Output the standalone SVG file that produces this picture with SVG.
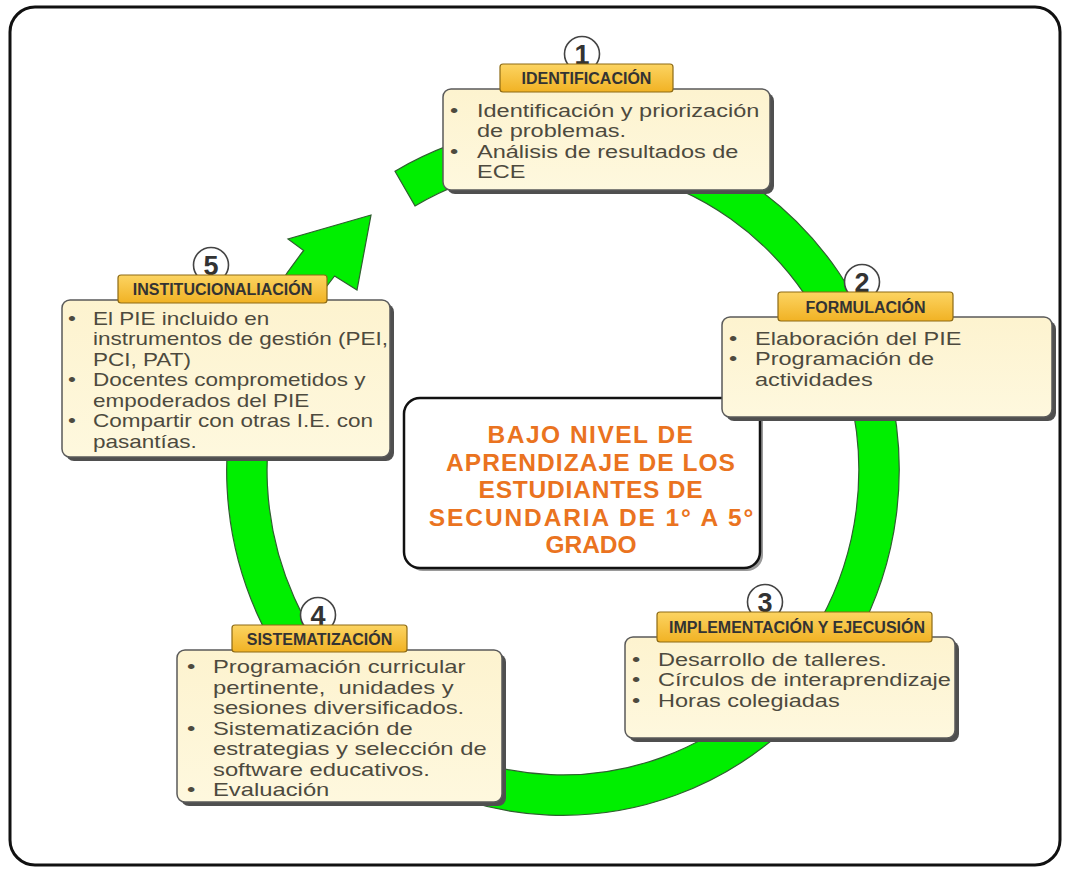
<svg xmlns="http://www.w3.org/2000/svg" width="1065" height="870" viewBox="0 0 1065 870">
<defs>
<linearGradient id="gold" x1="0" y1="0" x2="0" y2="1">
<stop offset="0" stop-color="#fcd462"/>
<stop offset="1" stop-color="#f1b224"/>
</linearGradient>
<linearGradient id="cream" x1="0" y1="0" x2="0" y2="1">
<stop offset="0" stop-color="#fdf3cf"/>
<stop offset="1" stop-color="#fef8de"/>
</linearGradient>
</defs>
<style>
.frame{fill:#fff;stroke:#111;stroke-width:3}
.shadow{fill:#4f4f4f}
.box{fill:url(#cream);stroke:#5a5a5a;stroke-width:1.5}
.label{fill:url(#gold);stroke:#8d6a14;stroke-width:1.2}
.ltxt{font-family:"Liberation Sans",Arial,sans-serif;font-weight:bold;font-size:16px;fill:#333;text-anchor:middle}
.circ{fill:#fff;stroke:#444;stroke-width:1.6}
.num{font-family:"Liberation Sans",Arial,sans-serif;font-weight:bold;font-size:27px;fill:#333;text-anchor:middle}
.body{font-family:"Liberation Sans",Arial,sans-serif;font-size:18.3px;fill:#4d4a3e}
.ring{fill:#00ef00;stroke:#2f5f2f;stroke-width:1.2;stroke-linejoin:miter}
.center{fill:#fff;stroke:#111;stroke-width:2.5}
.ctxt{font-family:"Liberation Sans",Arial,sans-serif;font-weight:bold;font-size:24.5px;fill:#ea7320;text-anchor:middle}
</style>
<rect class="frame" x="10" y="7" width="1050" height="858" rx="25"/>

<g id="connectors">
<path class="ring" d="M395,171.2 A336,345 0 0 1 779,734.3 A336,345 0 0 1 303.7,250.5 L288,239 L371,215 L357,290 L334.6,276 A296,305 0 0 0 753.3,703.6 A296,305 0 0 0 415,205.9 Z"/>
</g>

<g id="center">
<rect x="407" y="401" width="356" height="170" rx="16" fill="#9a9a9a"/>
<rect class="center" x="404" y="398" width="356" height="170" rx="16"/>
<text class="ctxt"><tspan x="591" y="443" letter-spacing="1.5">BAJO NIVEL DE</tspan><tspan x="591" y="470.5" letter-spacing="1.05">APRENDIZAJE DE LOS</tspan><tspan x="591" y="498" letter-spacing="0.8">ESTUDIANTES DE</tspan><tspan x="592" y="525.5" letter-spacing="1.9">SECUNDARIA DE 1° A 5°</tspan><tspan x="591" y="553" letter-spacing="0">GRADO</tspan></text>
</g>

<g id="node1">
<rect class="shadow" x="447" y="93" width="327" height="101" rx="8"/>
<rect class="box" x="443" y="89" width="327" height="101" rx="8"/>
<circle class="circ" cx="582" cy="54" r="17.5"/>
<text class="num" x="582" y="63.5">1</text>
<rect class="label" x="500" y="64" width="173" height="28" rx="3"/>
<text class="ltxt" x="586.5" y="84">IDENTIFICACIÓN</text>
<g transform="matrix(1.286 0 0 1 -136.42 0)">
<text class="body"><tspan x="456" y="117">•</tspan><tspan x="477">Identificación y priorización</tspan><tspan x="477" y="137.5">de problemas.</tspan><tspan x="456" y="158">•</tspan><tspan x="477">Análisis de resultados de</tspan><tspan x="477" y="178.5">ECE</tspan></text>
</g>
</g>

<g id="node2">
<rect class="shadow" x="726" y="321" width="330" height="100" rx="8"/>
<rect class="box" x="722" y="317" width="330" height="100" rx="8"/>
<circle class="circ" cx="862" cy="282" r="17.5"/>
<text class="num" x="862" y="291.5">2</text>
<rect class="label" x="778" y="292" width="175" height="29" rx="3"/>
<text class="ltxt" x="865.5" y="312.5">FORMULACIÓN</text>
<g transform="matrix(1.286 0 0 1 -215.93 0)">
<text class="body"><tspan x="734.8" y="345">•</tspan><tspan x="755">Elaboración del PIE</tspan><tspan x="734.8" y="365.5">•</tspan><tspan x="755">Programación de</tspan><tspan x="755" y="386">actividades</tspan></text>
</g>
</g>

<g id="node3">
<rect class="shadow" x="629" y="641" width="330" height="101" rx="8"/>
<rect class="box" x="625" y="637" width="330" height="101" rx="8"/>
<circle class="circ" cx="765" cy="602" r="17.5"/>
<text class="num" x="765" y="611.5">3</text>
<rect class="label" x="657" y="612" width="275" height="30" rx="3"/>
<text class="ltxt" x="797" y="633">IMPLEMENTACIÓN Y EJECUSIÓN</text>
<g transform="matrix(1.286 0 0 1 -188.19 0)">
<text class="body"><tspan x="637.8" y="666">•</tspan><tspan x="658">Desarrollo de talleres.</tspan><tspan x="637.8" y="686.5">•</tspan><tspan x="658">Círculos de interaprendizaje</tspan><tspan x="637.8" y="707">•</tspan><tspan x="658">Horas colegiadas</tspan></text>
</g>
</g>

<g id="node4">
<rect class="shadow" x="181" y="654" width="325" height="152" rx="8"/>
<rect class="box" x="177" y="650" width="325" height="152" rx="8"/>
<circle class="circ" cx="318" cy="615" r="17.5"/>
<text class="num" x="318" y="624.5">4</text>
<rect class="label" x="232" y="625" width="175" height="27" rx="3"/>
<text class="ltxt" x="319.5" y="644.5">SISTEMATIZACIÓN</text>
<g transform="matrix(1.3 0 0 1 -63.9 0)">
<text class="body" xml:space="preserve"><tspan x="193" y="673.5">•</tspan><tspan x="213">Programación curricular</tspan><tspan x="213" y="694">pertinente,  unidades y</tspan><tspan x="213" y="714.5">sesiones diversificados.</tspan><tspan x="193" y="735">•</tspan><tspan x="213">Sistematización de</tspan><tspan x="213" y="755.5">estrategias y selección de</tspan><tspan x="213" y="776">software educativos.</tspan><tspan x="193" y="796.5">•</tspan><tspan x="213">Evaluación</tspan></text>
</g>
</g>

<g id="node5">
<rect class="shadow" x="66" y="304" width="328" height="157" rx="8"/>
<rect class="box" x="62" y="300" width="328" height="157" rx="8"/>
<circle class="circ" cx="211" cy="265" r="17.5"/>
<text class="num" x="211" y="274.5">5</text>
<rect class="label" x="118" y="275" width="209" height="28" rx="3"/>
<text class="ltxt" x="222.5" y="295">INSTITUCIONALIACIÓN</text>
<g transform="matrix(1.23 0 0 1 -21.39 0)">
<text class="body"><tspan x="72.7" y="325">•</tspan><tspan x="93">El PIE incluido en</tspan><tspan x="93" y="345.5">instrumentos de gestión (PEI,</tspan><tspan x="93" y="366">PCI, PAT)</tspan><tspan x="72.7" y="386.5">•</tspan><tspan x="93">Docentes comprometidos y</tspan><tspan x="93" y="407">empoderados del PIE</tspan><tspan x="72.7" y="427.5">•</tspan><tspan x="93">Compartir con otras I.E. con</tspan><tspan x="93" y="448">pasantías.</tspan></text>
</g>
</g>
</svg>
